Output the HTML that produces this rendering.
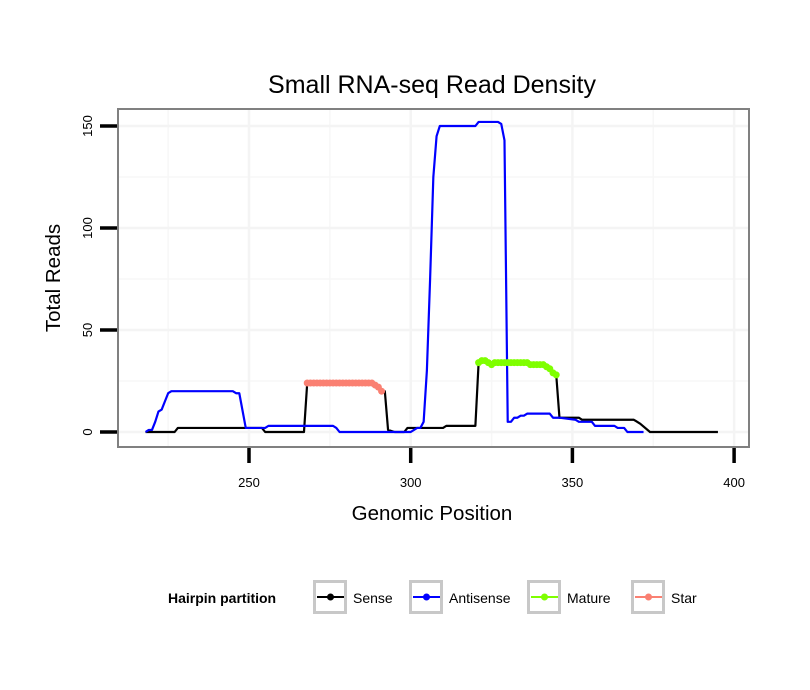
<!DOCTYPE html>
<html><head><meta charset="utf-8"><style>
body{margin:0;background:#fff}
svg{display:block;font-family:"Liberation Sans",sans-serif}
</style></head><body>
<svg id="chart" width="810" height="690" viewBox="0 0 810 690">
<rect width="810" height="690" fill="#fff"/>
<text x="432" y="93" text-anchor="middle" font-size="25">Small RNA-seq Read Density</text>
<g id="grid"></g>
<g id="series"></g>
<rect x="118" y="109" width="631" height="338" fill="none" stroke="#808080" stroke-width="2"/>
<g id="axes"></g>
<text x="432" y="520" text-anchor="middle" font-size="20.5">Genomic Position</text>
<text transform="translate(60,278) rotate(-90)" text-anchor="middle" font-size="20.5">Total Reads</text>
<g>
<text x="168" y="603" font-size="14" font-weight="bold">Hairpin partition</text>
<g id="legend"></g>
</g>
</svg>
<script>
const xTicks=[250,300,350,400];
const yTicks=[0,50,100,150];
const senseX=[218,227,228,254,255,267,268,288,289,290,291,292,293,295,298,299,310,311,320,321,322,323,324,325,326,336,337,341,342,343,344,345,346,352,353,369,371,374,395];
const senseY=[0,0,2,2,0,0,24,24,23,22,20,20,1,0,0,2,2,3,3,34,35,35,34,33,34,34,33,33,32,31,29,28,7,7,6,6,4,0,0];
const antiX=[218,219,220,221,222,223,224,225,226,245,246,247,249,253,255,256,276,277,278,300,301,302,303,304,305,306,307,308,309,311,320,321,326,327,328,329,330,331,332,333,334,335,336,338,343,344,346,351,352,356,357,363,364,366,367,372];
const antiY=[0,1,1,5,10,11,15,19,20,20,19,19,2,2,2,3,3,2,0,0,1,2,2,5,30,75,125,145,150,150,150,152,152,152,151,143,5,5,7,7,8,8,9,9,9,7,7,6,5,5,3,3,2,2,0,0];
const matureX=[321,322,323,324,325,326,327,328,329,330,331,332,333,334,335,336,337,338,339,340,341,342,343,344,345];
const matureY=[34,35,35,34,33,34,34,34,34,34,34,34,34,34,34,34,33,33,33,33,33,32,31,29,28];
const starX=[268,269,270,271,272,273,274,275,276,277,278,279,280,281,282,283,284,285,286,287,288,289,290,291];
const starY=[24,24,24,24,24,24,24,24,24,24,24,24,24,24,24,24,24,24,24,24,24,23,22,20];
const legendLabels=["Sense","Antisense","Mature","Star"];
const legendColors=["#000000","#0000ff","#7fff00","#fa8072"];
const NS="http://www.w3.org/2000/svg";
const sx=v=>249+(v-250)*3.234;
const sy=v=>432-v*2.04;
function mk(tag,attrs,parent){const e=document.createElementNS(NS,tag);for(const k in attrs)e.setAttribute(k,attrs[k]);parent.appendChild(e);return e;}
const grid=document.getElementById('grid'),axes=document.getElementById('axes'),ser=document.getElementById('series');
[225,275,325,375].forEach(v=>{const l=mk('line',{x1:sx(v),x2:sx(v),y1:109,y2:447,stroke:'#f7f7f7','stroke-width':1.5},grid);

});
[25,75,125].forEach(v=>{const l=mk('line',{x1:118,x2:749,y1:sy(v),y2:sy(v),stroke:'#f7f7f7','stroke-width':1.5},grid);

});
xTicks.forEach(v=>{const l=mk('line',{x1:sx(v),x2:sx(v),y1:109,y2:447,stroke:'#f4f4f4','stroke-width':2.5},grid);


const t=mk('line',{x1:sx(v),x2:sx(v),y1:448,y2:463,stroke:'#000','stroke-width':3.5},axes);


const tx=mk('text',{x:sx(v),y:487,'text-anchor':'middle','font-size':13},axes);tx.textContent=v;

});
yTicks.forEach(v=>{const l=mk('line',{x1:118,x2:749,y1:sy(v),y2:sy(v),stroke:'#f4f4f4','stroke-width':2.5},grid);


const t=mk('line',{x1:100,x2:117,y1:sy(v),y2:sy(v),stroke:'#000','stroke-width':3.5},axes);


const tx=mk('text',{transform:`translate(92,${sy(v)}) rotate(-90)`,'text-anchor':'middle','font-size':13},axes);tx.textContent=v;

});
function line(xs,ys,col,w,name){const p=mk('polyline',{points:xs.map((x,i)=>sx(x)+','+sy(ys[i])).join(' '),fill:'none',stroke:col,'stroke-width':w,'stroke-linejoin':'round'},ser);

}
function pts(xs,ys,col,name){xs.forEach((x,i)=>{const c=mk('circle',{cx:sx(x),cy:sy(ys[i]),r:3.5,fill:col},ser);

});}
line(senseX,senseY,'#000',2.2,'sense-line');
line(antiX,antiY,'#0000ff',2.2,'antisense-line');
line(starX,starY,'#fa8072',2.5,'star-line');pts(starX,starY,'#fa8072','star-point');
line(matureX,matureY,'#7fff00',2.5,'mature-line');pts(matureX,matureY,'#7fff00','mature-point');
const leg=document.getElementById('legend');
const lx=[313,409,527,631];
legendLabels.forEach((lab,i)=>{const g=mk('g',{},leg);


mk('rect',{x:lx[i]+1.5,y:581.5,width:31,height:31,fill:'#fff',stroke:'#c8c8c8','stroke-width':3},g);
mk('line',{x1:lx[i]+4,x2:lx[i]+31,y1:597,y2:597,stroke:legendColors[i],'stroke-width':2},g);
mk('circle',{cx:lx[i]+17.5,cy:597,r:3.5,fill:legendColors[i]},g);
const t=mk('text',{x:lx[i]+40,y:603,'font-size':14},g);t.textContent=lab;});
</script>
</body></html>
